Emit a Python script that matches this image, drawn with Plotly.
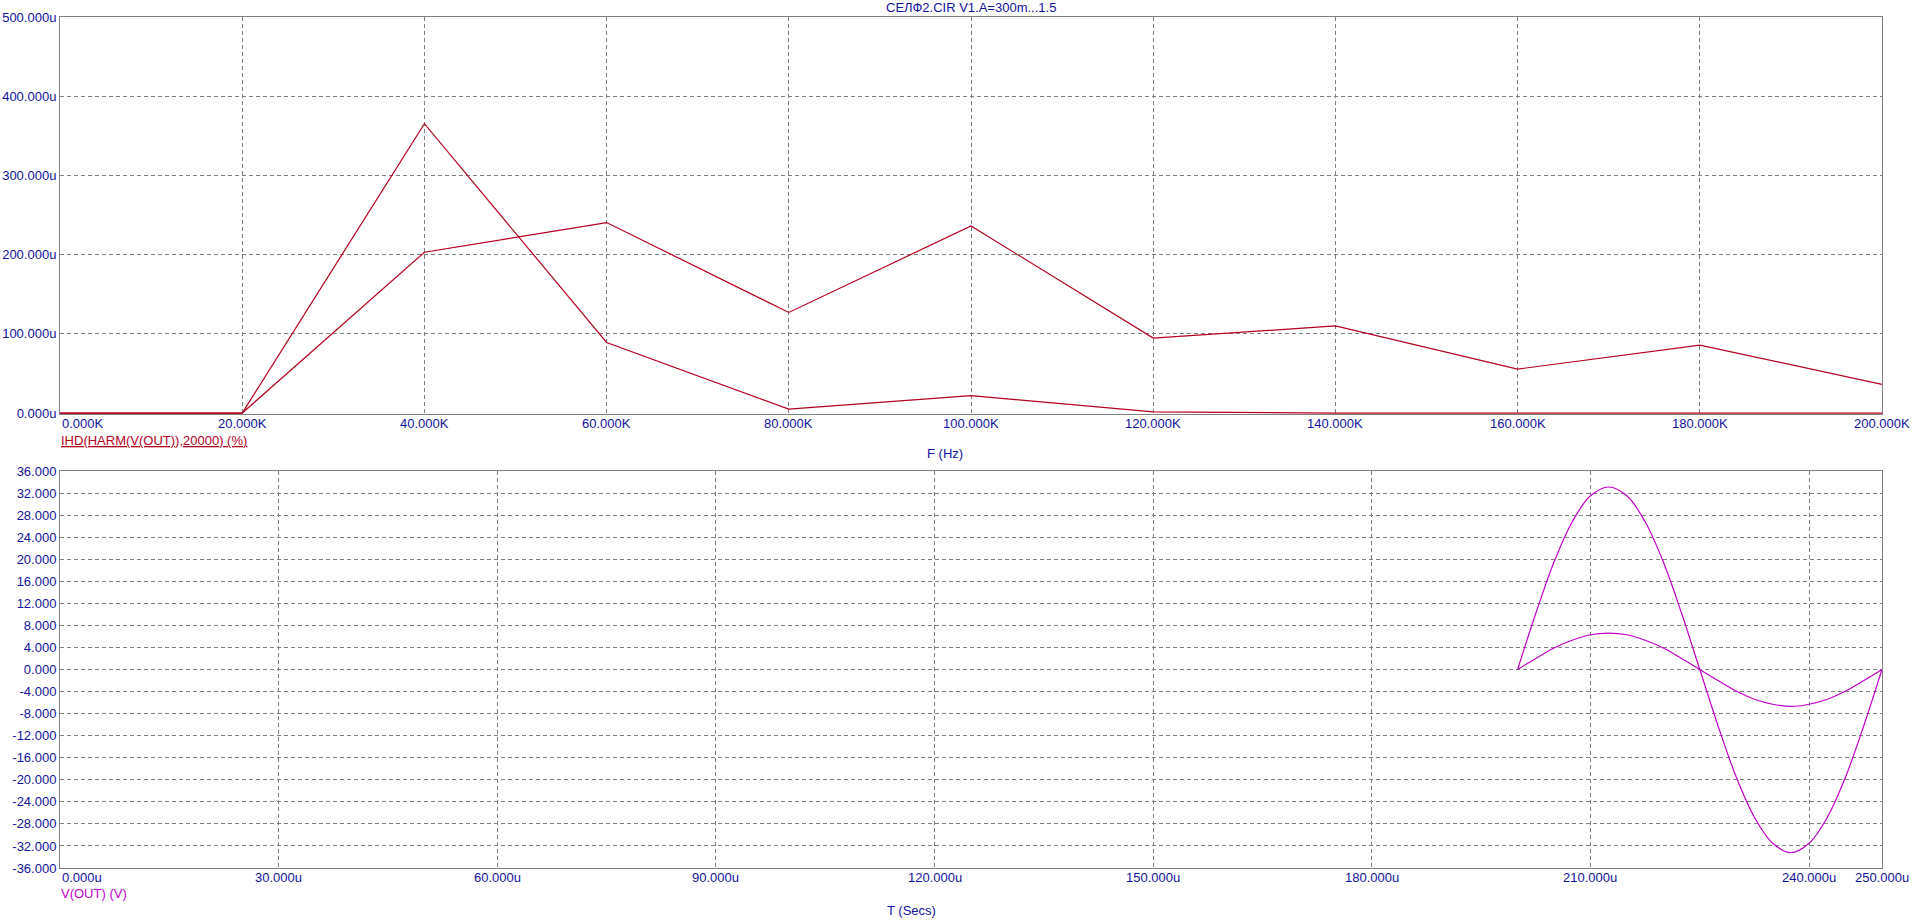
import plotly.graph_objects as go

# ---------------- data ----------------
freq_hz = [0, 20000, 40000, 60000, 80000, 100000, 120000, 140000, 160000, 180000, 200000]
ihd_a = [0, 0, 365.3, 89.1, 5.0, 21.9, 1.5, 0, 0, 0, 0]          # u%
ihd_b = [0, 0, 203.0, 240.5, 127.0, 236.2, 94.6, 110.0, 55.5, 85.8, 36.2]  # u%

freq_tick_vals = [0, 20000, 40000, 60000, 80000, 100000, 120000, 140000, 160000, 180000, 200000]
freq_tick_text = ["0.000K", "20.000K", "40.000K", "60.000K", "80.000K", "100.000K",
                  "120.000K", "140.000K", "160.000K", "180.000K", "200.000K"]
ihd_tick_vals = [0, 100, 200, 300, 400, 500]
ihd_tick_text = ["0.000u", "100.000u", "200.000u", "300.000u", "400.000u", "500.000u"]

time_us = [200, 202.5, 205, 207.5, 210, 212.5, 215, 217.5, 220, 222.5, 225,
           227.5, 230, 232.5, 235, 237.5, 240, 242.5, 245, 247.5, 250]
vout_big = [0, 10.2, 19.5, 26.8, 31.5, 33.1, 31.5, 26.8, 19.5, 10.2, 0,
            -10.2, -19.5, -26.8, -31.5, -33.2, -31.5, -26.8, -19.5, -10.2, 0]
vout_small = [0, 2.0, 3.9, 5.3, 6.3, 6.6, 6.3, 5.3, 3.9, 2.0, 0,
              -2.0, -3.9, -5.4, -6.3, -6.7, -6.3, -5.4, -3.9, -2.0, 0]

time_tick_vals = [0, 30, 60, 90, 120, 150, 180, 210, 240, 250]
time_tick_text = ["0.000u", "30.000u", "60.000u", "90.000u", "120.000u", "150.000u",
                  "180.000u", "210.000u", "240.000u", "250.000u"]
v_tick_vals = [36, 32, 28, 24, 20, 16, 12, 8, 4, 0, -4, -8, -12, -16, -20, -24, -28, -32, -36]
v_tick_text = ["%.3f" % v for v in v_tick_vals]

title_text = "СЕЛФ2.CIR V1.A=300m...1.5"
top_label = "IHD(HARM(V(OUT)),20000) (%)"
bottom_label = "V(OUT) (V)"

# ---------------- style ----------------
W, H = 1916, 923
FONT = "Liberation Sans, Arial, sans-serif"
BLUE = "#12129E"
RED = "#B4001E"
MAG = "#C000C8"
GRID = "#808080"
FS = 13


def px(x):
    return x / W


def py(y):
    return 1 - y / H


X0, X1 = 60, 1882
TOP0, TOP1 = 17, 414
BOT0, BOT1 = 471, 868

fig = go.Figure()
fig.add_trace(go.Scatter(x=freq_hz, y=ihd_b, mode="lines", line=dict(color=RED, width=1.2),
                         xaxis="x", yaxis="y", showlegend=False, hoverinfo="skip"))
fig.add_trace(go.Scatter(x=freq_hz, y=ihd_a, mode="lines", line=dict(color=RED, width=1.2),
                         xaxis="x", yaxis="y", showlegend=False, hoverinfo="skip"))
fig.add_trace(go.Scatter(x=time_us, y=vout_small, mode="lines", line=dict(color=MAG, width=1.2, shape="spline"),
                         xaxis="x2", yaxis="y2", showlegend=False, hoverinfo="skip"))
fig.add_trace(go.Scatter(x=time_us, y=vout_big, mode="lines", line=dict(color=MAG, width=1.2, shape="spline"),
                         xaxis="x2", yaxis="y2", showlegend=False, hoverinfo="skip"))

axis_common = dict(showline=True, mirror=True, linecolor=GRID, linewidth=1,
                   showgrid=True, gridcolor=GRID, gridwidth=1, griddash="4px,3px",
                   zeroline=False, ticks="", layer="below traces", fixedrange=True,
                   automargin=False)

fig.update_layout(
    width=W, height=H, autosize=False,
    margin=dict(l=0, r=0, t=0, b=0, pad=0),
    paper_bgcolor="white", plot_bgcolor="white",
    font=dict(family=FONT, size=FS, color=BLUE),
    hovermode=False,
    xaxis=dict(domain=[px(X0), px(X1)], anchor="y", range=[0, 200000],
               tickvals=freq_tick_vals, showticklabels=False, **axis_common),
    yaxis=dict(domain=[py(TOP1), py(TOP0)], anchor="x", range=[-1.2, 500],
               tickvals=ihd_tick_vals, ticktext=ihd_tick_text, ticklabelstandoff=0,
               tickfont=dict(family=FONT, size=FS, color=BLUE), **axis_common),
    xaxis2=dict(domain=[px(X0), px(X1)], anchor="y2", range=[0, 250],
                tickvals=time_tick_vals[:-1], showticklabels=False, **axis_common),
    yaxis2=dict(domain=[py(BOT1), py(BOT0)], anchor="x2", range=[-36, 36],
                tickvals=v_tick_vals, ticktext=v_tick_text, ticklabelstandoff=0,
                tickfont=dict(family=FONT, size=FS, color=BLUE), **axis_common),
)

ann = []
# x tick labels, top plot
for i, (v, t) in enumerate(zip(freq_tick_vals, freq_tick_text)):
    ann.append(dict(x=v, y=py(423), xref="x", yref="paper", text=t, showarrow=False,
                    xanchor="left" if i == 0 else "center", yanchor="middle",
                    font=dict(family=FONT, size=FS, color=BLUE)))
# x tick labels, bottom plot
for i, (v, t) in enumerate(zip(time_tick_vals, time_tick_text)):
    ann.append(dict(x=v, y=py(877), xref="x2", yref="paper", text=t, showarrow=False,
                    xanchor="left" if i == 0 else "center", yanchor="middle",
                    font=dict(family=FONT, size=FS, color=BLUE)))

ann.append(dict(x=px(971), y=py(8), xref="paper", yref="paper", text=title_text, showarrow=False,
                xanchor="center", yanchor="middle", font=dict(family=FONT, size=FS, color=BLUE)))
ann.append(dict(x=px(59), y=py(440), xref="paper", yref="paper", text="<u>" + top_label + "</u>",
                showarrow=False, xanchor="left", yanchor="middle",
                font=dict(family=FONT, size=FS, color=RED)))
ann.append(dict(x=px(945), y=py(453), xref="paper", yref="paper", text="F (Hz)", showarrow=False,
                xanchor="center", yanchor="middle", font=dict(family=FONT, size=FS, color=BLUE)))
ann.append(dict(x=px(59), y=py(893), xref="paper", yref="paper", text=bottom_label,
                showarrow=False, xanchor="left", yanchor="middle",
                font=dict(family=FONT, size=FS, color=MAG)))
ann.append(dict(x=px(911), y=py(910), xref="paper", yref="paper", text="T (Secs)", showarrow=False,
                xanchor="center", yanchor="middle", font=dict(family=FONT, size=FS, color=BLUE)))

fig.update_layout(annotations=ann)

fig.write_html(
    "out.html",
    config={"displayModeBar": False, "staticPlot": True},
    post_script="document.body.style.margin='0px';document.body.style.overflow='hidden';"
                "document.documentElement.style.overflow='hidden';",
)
